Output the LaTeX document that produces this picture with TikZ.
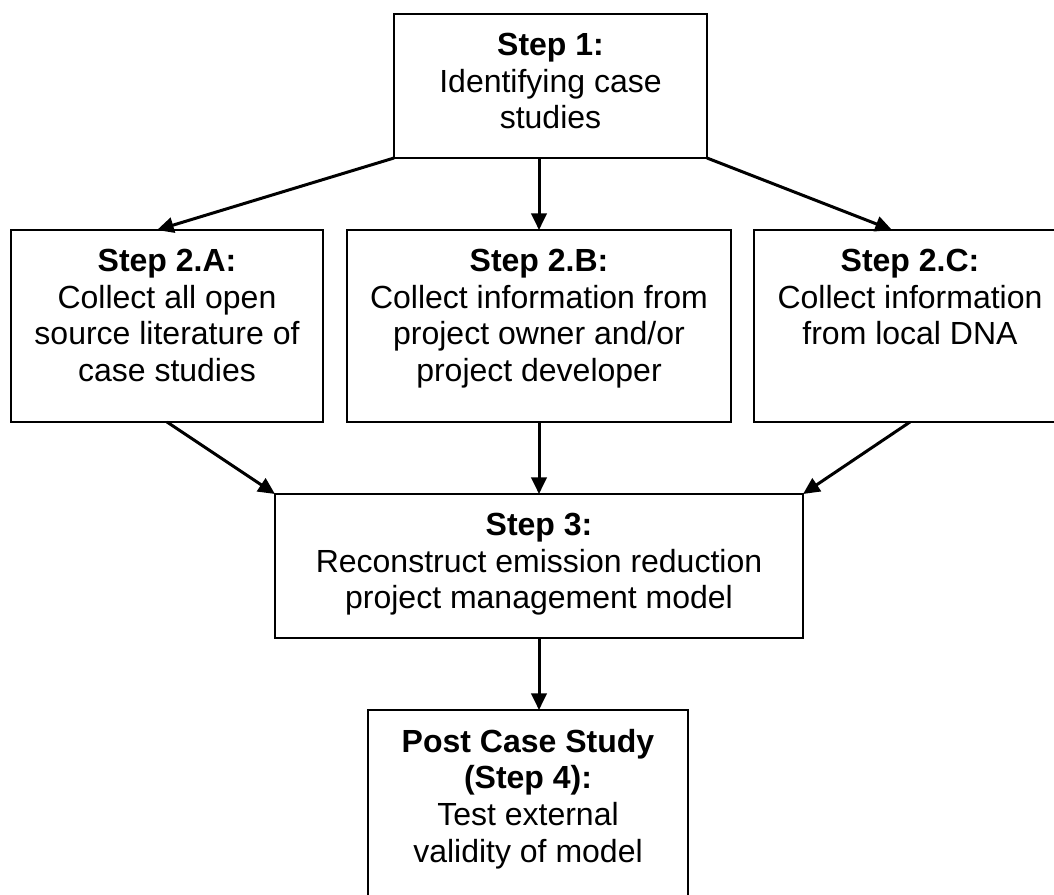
\documentclass[tikz,border=0pt]{standalone}
\usepackage{fontspec}
\setmainfont{Liberation Sans}
\usetikzlibrary{arrows.meta,calc}
\begin{document}
\begin{tikzpicture}[x=0.75pt,y=-0.75pt,
  stepbox/.style={draw,line width=1.3pt,inner sep=0pt,outer sep=0pt},
  steptext/.style={inner sep=0pt,align=center,font=\fontsize{24}{27.6}\selectfont},
  flow/.style={line width=2.25pt,-{Triangle[length=12.5pt,width=11.5pt]}}]
\useasboundingbox (0,0) rectangle (1054,894);
% boxes
\node[stepbox,minimum width=234.75pt,minimum height=108pt] (s1) at (550.5,86) {};
\node[stepbox,minimum width=234pt,minimum height=144pt] (a2) at (167,326) {};
\node[stepbox,minimum width=288pt,minimum height=144pt] (b2) at (539,326) {};
\node[stepbox,minimum width=234pt,minimum height=144pt] (c2) at (910,326) {};
\node[stepbox,minimum width=396pt,minimum height=108pt] (s3) at (539,566) {};
\node[stepbox,minimum width=240pt,minimum height=150pt] (s4) at (528,810) {};
% texts
\node[steptext,below=14pt] (t1) at (s1.north) {\textbf{Step 1:}\\Identifying case\\studies};
\node[steptext,below=14pt] (ta) at (a2.north) {\textbf{Step 2.A:}\\Collect all open\\source literature of\\case studies};
\node[steptext,below=14pt] (tb) at (b2.north) {\textbf{Step 2.B:}\\Collect information from\\project owner and/or\\project developer};
\node[steptext,below=14pt] (tc) at (c2.north) {\textbf{Step 2.C:}\\Collect information\\from local DNA};
\node[steptext,below=14pt] (t3) at (s3.north) {\textbf{Step 3:}\\Reconstruct emission reduction\\project management model};
\node[steptext,below=14pt] (t4) at (s4.north) {\textbf{Post Case Study}\\\textbf{(Step 4):}\\Test external\\validity of model};
% connectors
\draw[flow] (s1.south west) -- ([xshift=-7.5pt]a2.north);
\draw[flow] (s1.south -| b2.north) -- (b2.north);
\draw[flow] (s1.south east) -- ([xshift=-13.5pt]c2.north);
\draw[flow] (a2.south) -- (s3.north west);
\draw[flow] (b2.south) -- (s3.north);
\draw[flow] (c2.south) -- (s3.north east);
\draw[flow] (s3.south) -- (s3.south |- s4.north);
\end{tikzpicture}
\end{document}
